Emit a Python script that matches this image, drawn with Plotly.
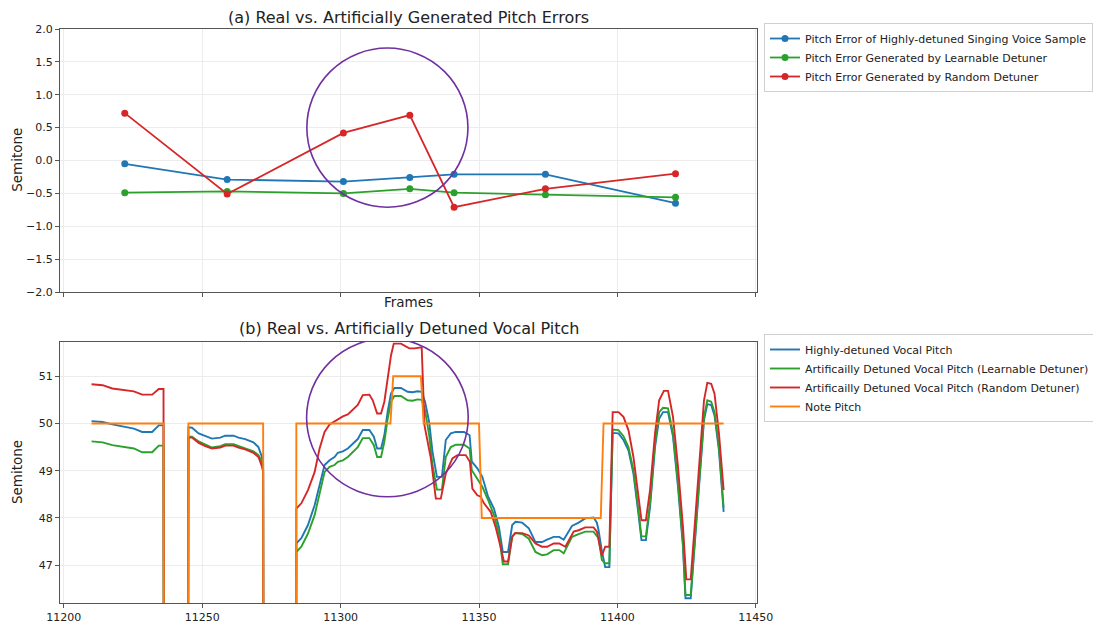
import plotly.graph_objects as go

# ---------------- (a) pitch errors ----------------
err_frames = [11222, 11259, 11301, 11325, 11341, 11374, 11421]
err_real = [-0.05, -0.29, -0.32, -0.26, -0.21, -0.21, -0.65]
err_learn = [-0.49, -0.47, -0.50, -0.43, -0.49, -0.52, -0.56]
err_random = [0.72, -0.51, 0.42, 0.69, -0.71, -0.43, -0.20]

# ---------------- (b) vocal pitch ----------------
real_x = [11210, 11214, 11217.5, 11225.3, 11228.3, 11231.9, 11234.3, 11236, 11237, 11244,
          11245, 11246.3, 11248.7, 11251.1, 11253.5, 11256.5, 11258.3, 11261.3, 11263.1, 11265.5,
          11268.5, 11270.3, 11271.5, 11272, 11273, 11283,
          11284, 11285.8, 11288.2, 11290.6, 11292.4, 11294.2, 11296, 11297.8, 11299, 11300.8,
          11302.6, 11304.4, 11306.2, 11308, 11310.4, 11312, 11313.2, 11314.6, 11315.8, 11317,
          11318.2, 11319.4, 11321.8, 11324.2, 11326, 11327.8, 11329.3, 11330.5, 11332, 11333.2,
          11334.8, 11336.6, 11338, 11339.8, 11341.6, 11344.6, 11346.6, 11347.4, 11349.4, 11351.2,
          11353.3, 11355.4, 11357.2, 11358.6, 11360.5, 11362, 11363.2, 11365.6, 11368, 11370.4,
          11372.8, 11374.6, 11377, 11379, 11380.6, 11383.6, 11386, 11388.4, 11391.4, 11392.6,
          11393.2, 11394.4, 11395.6, 11397.1, 11398.3, 11400.4, 11402.2, 11404, 11405.8, 11407.6,
          11408.7, 11410.3, 11411.8, 11413.6, 11415.1, 11416.5, 11418.3, 11420.1, 11421.9, 11423.7,
          11424.6, 11426.5, 11427.9, 11429.7, 11431.3, 11432.5, 11433.9, 11435.1, 11436.7, 11438.4]
real_y = [50.05, 50.03, 49.98, 49.89, 49.82, 49.82, 49.96, 49.96, 0, 0,
          49.92, 49.91, 49.79, 49.73, 49.68, 49.70, 49.74, 49.74, 49.70, 49.67,
          49.60, 49.50, 49.30, 49.15, 0, 0,
          47.46, 47.57, 47.85, 48.27, 48.69, 49.12, 49.22, 49.29, 49.38, 49.41,
          49.47, 49.58, 49.67, 49.86, 49.86, 49.72, 49.47, 49.47, 49.75, 50.25,
          50.63, 50.75, 50.75, 50.67, 50.66, 50.68, 50.67, 50.46, 50.03, 49.40,
          48.87, 48.87, 49.65, 49.79, 49.82, 49.82, 49.75, 49.19, 49.05, 48.87,
          48.45, 48.20, 47.81, 47.28, 47.28, 47.85, 47.92, 47.90, 47.78, 47.49,
          47.49, 47.54, 47.60, 47.60, 47.54, 47.83, 47.90, 47.99, 48.01, 47.90,
          47.74, 47.30, 46.96, 46.96, 49.80, 49.79, 49.65, 49.43, 48.94, 48.09,
          47.53, 47.53, 48.23, 49.50, 50.10, 50.24, 50.24, 49.72, 48.66, 47.39,
          46.30, 46.30, 47.39, 48.94, 50.07, 50.41, 50.39, 50.17, 49.43, 48.13]

learn_x = real_x
learn_y = [49.62, 49.60, 49.54, 49.47, 49.39, 49.39, 49.53, 49.53, 0, 0,
           49.72, 49.72, 49.62, 49.55, 49.49, 49.52, 49.56, 49.56, 49.52, 49.47,
           49.41, 49.33, 49.20, 49.03, 0, 0,
           47.28, 47.39, 47.67, 48.06, 48.55, 48.97, 49.08, 49.12, 49.19, 49.22,
           49.29, 49.40, 49.50, 49.69, 49.69, 49.54, 49.29, 49.29, 49.61, 50.10,
           50.46, 50.58, 50.58, 50.49, 50.48, 50.51, 50.50, 50.28, 49.75, 49.12,
           48.60, 48.60, 49.29, 49.50, 49.55, 49.55, 49.47, 49.01, 48.83, 48.66,
           48.38, 48.06, 47.67, 47.02, 47.02, 47.61, 47.68, 47.66, 47.56, 47.28,
           47.21, 47.23, 47.32, 47.32, 47.25, 47.60, 47.66, 47.71, 47.71, 47.60,
           47.57, 47.11, 47.04, 47.04, 49.87, 49.86, 49.73, 49.50, 49.01, 48.16,
           47.61, 47.61, 48.31, 49.58, 50.24, 50.33, 50.32, 49.79, 48.73, 47.46,
           46.37, 46.37, 47.46, 49.01, 50.14, 50.49, 50.46, 50.24, 49.50, 48.22]

rand_x = [11210, 11214, 11217.5, 11225.3, 11228.3, 11231.9, 11234.3, 11236, 11237, 11244,
          11245, 11246.3, 11248.7, 11251.1, 11253.5, 11256.5, 11258.3, 11261.3, 11263.1, 11265.5,
          11268.5, 11270.3, 11271.5, 11272, 11273, 11283,
          11284, 11285.8, 11288.2, 11290.6, 11292.4, 11294.2, 11296, 11298.4, 11300.8, 11302.6,
          11304.4, 11306.2, 11308, 11310.4, 11311.6, 11313.2, 11314.6, 11315.8, 11317, 11318.2,
          11319.2, 11321.8, 11324.8, 11326.6, 11329.3, 11330.3, 11332.6, 11334.4, 11336.2, 11338,
          11340.4, 11342.2, 11345.2, 11346.7, 11347.6, 11349.4, 11350.6, 11351.8, 11354.2, 11356,
          11357.8, 11359, 11360.5, 11362, 11363, 11365.6, 11368, 11370.4, 11372.8, 11374.6,
          11377, 11379, 11381.2, 11384.2, 11386, 11388.4, 11391.4, 11392.6, 11393.2, 11394.4,
          11395.6, 11397.1, 11398.3, 11400.4, 11402.2, 11404, 11405.8, 11407.6, 11408.7, 11410.3,
          11411.8, 11413.6, 11415.1, 11416.8, 11418.3, 11420.1, 11421.9, 11423.7, 11424.9, 11426.5,
          11427.9, 11429.7, 11431.3, 11432.5, 11433.9, 11435.1, 11436.7, 11438.4]
rand_y = [50.83, 50.81, 50.74, 50.68, 50.61, 50.61, 50.73, 50.73, 0, 0,
          49.70, 49.70, 49.59, 49.52, 49.47, 49.49, 49.53, 49.53, 49.49, 49.45,
          49.38, 49.29, 49.10, 48.98, 0, 0,
          48.20, 48.31, 48.59, 48.97, 49.47, 49.82, 49.98, 50.07, 50.15, 50.19,
          50.28, 50.39, 50.60, 50.61, 50.49, 50.21, 50.21, 50.46, 50.95, 51.44,
          51.69, 51.69, 51.59, 51.59, 51.61, 49.96, 49.26, 48.41, 48.41, 48.94,
          49.26, 49.33, 49.33, 49.19, 48.62, 48.48, 48.45, 48.31, 48.13, 47.81,
          47.39, 47.08, 47.08, 47.60, 47.68, 47.68, 47.63, 47.46, 47.39, 47.39,
          47.46, 47.46, 47.39, 47.71, 47.74, 47.80, 47.80, 47.71, 47.53, 47.20,
          47.39, 47.39, 50.24, 50.24, 50.14, 49.86, 49.29, 48.45, 47.95, 47.95,
          48.59, 49.79, 50.49, 50.69, 50.69, 50.14, 49.08, 47.81, 46.70, 46.70,
          47.81, 49.29, 50.49, 50.86, 50.84, 50.63, 49.79, 48.59]

note_x = [11210, 11236, 11237, 11244, 11245, 11272, 11273, 11283, 11284, 11318,
          11319, 11329, 11330, 11350, 11351, 11394, 11395, 11438.4]
note_y = [50, 50, 0, 0, 50, 50, 0, 0, 50, 50,
          51, 51, 50, 50, 48, 48, 50, 50]

x_ticks = [11200, 11250, 11300, 11350, 11400, 11450]
err_ticks = [-2.0, -1.5, -1.0, -0.5, 0.0, 0.5, 1.0, 1.5, 2.0]
pitch_ticks = [47, 48, 49, 50, 51]

BLUE, GREEN, RED, ORANGE, PURPLE = "#1f77b4", "#2ca02c", "#d62728", "#ff7f0e", "#7030a0"
FONT = "DejaVu Sans"
TXT = "#222222"

fig = go.Figure()

for name, ys, col in [
    ("Pitch Error of Highly-detuned Singing Voice Sample", err_real, BLUE),
    ("Pitch Error Generated by Learnable Detuner", err_learn, GREEN),
    ("Pitch Error Generated by Random Detuner", err_random, RED),
]:
    fig.add_trace(go.Scatter(x=err_frames, y=ys, name=name, mode="lines+markers",
                             line=dict(color=col, width=1.8), marker=dict(color=col, size=7),
                             xaxis="x", yaxis="y", legend="legend"))

for name, xs, ys, col in [
    ("Highly-detuned Vocal Pitch", real_x, real_y, BLUE),
    ("Artificailly Detuned Vocal Pitch (Learnable Detuner)", learn_x, learn_y, GREEN),
    ("Artificailly Detuned Vocal Pitch (Random Detuner)", rand_x, rand_y, RED),
    ("Note Pitch", note_x, note_y, ORANGE),
]:
    fig.add_trace(go.Scatter(x=xs, y=ys, name=name, mode="lines",
                             line=dict(color=col, width=1.9),
                             xaxis="x2", yaxis="y2", legend="legend2"))

axis_common = dict(showline=True, mirror=True, linecolor="#555555", linewidth=1,
                   ticks="outside", ticklen=4, tickcolor="#555555",
                   showgrid=True, gridcolor="#ececec", gridwidth=1, zeroline=False,
                   tickfont=dict(family=FONT, size=11, color=TXT))

def fmt(v):
    s = f"{v:.1f}"
    return s.replace("-", "\u2212")

W, H = 1093, 623
X_RANGE = [11198.6, 11450.45]
leg_common = dict(xref="container", yref="container", xanchor="left", yanchor="top",
                  bgcolor="white", bordercolor="#d0d0d0", borderwidth=1,
                  font=dict(family=FONT, size=11, color=TXT),
                  itemwidth=30, tracegroupgap=0)

fig.update_layout(
    width=W, height=H,
    margin=dict(l=60, r=336, t=29, b=20, autoexpand=False),
    paper_bgcolor="white", plot_bgcolor="white",
    font=dict(family=FONT, color=TXT),
    showlegend=True,
    xaxis=dict(domain=[0, 1], anchor="y", matches="x2", range=X_RANGE,
               tickvals=x_ticks, showticklabels=False, **axis_common),
    yaxis=dict(domain=[0.5418, 1.0], anchor="x", range=[-2.0, 2.0],
               tickvals=err_ticks, ticktext=[fmt(v) for v in err_ticks], **axis_common),
    xaxis2=dict(domain=[0, 1], anchor="y2", range=X_RANGE,
                tickvals=x_ticks, ticktext=[str(v) for v in x_ticks], **axis_common),
    yaxis2=dict(domain=[0, 0.4552], anchor="x2", range=[46.2, 51.73],
                tickvals=pitch_ticks, ticktext=[str(v) for v in pitch_ticks], **axis_common),
    legend=dict(x=764 / W, y=1 - 23 / H, **leg_common),
    legend2=dict(x=764 / W, y=1 - 334 / H, **leg_common),
)

# zero reference line in panel (a)
fig.add_shape(type="line", xref="x domain", yref="y", x0=0, x1=1, y0=0, y1=0,
              line=dict(color="#999999", width=1, dash="dash"), layer="below")

# highlight circles
fig.add_shape(type="circle", xref="x", yref="y", x0=11287.8, x1=11346.0, y0=-0.71, y1=1.71,
              line=dict(color=PURPLE, width=1.6))
fig.add_shape(type="circle", xref="x2", yref="y2", x0=11287.7, x1=11346.1, y0=48.45, y1=51.80,
              line=dict(color=PURPLE, width=1.6))

# titles and labels
ann = [
    dict(text="(a) Real vs. Artificially Generated Pitch Errors", x=0.5, y=1.0209, size=16),
    dict(text="(b) Real vs. Artificially Detuned Vocal Pitch", x=0.5, y=0.479, size=16),
    dict(text="Frames", x=0.5, y=0.5244, size=13.5),
]
for a in ann:
    fig.add_annotation(text=a["text"], x=a["x"], y=a["y"], xref="paper", yref="paper",
                       showarrow=False, xanchor="center", yanchor="middle",
                       font=dict(family=FONT, size=a["size"], color=TXT))
for yy in [0.772, 0.228]:
    fig.add_annotation(text="Semitone", x=-0.0617, y=yy, xref="paper", yref="paper",
                       showarrow=False, textangle=-90, xanchor="center", yanchor="middle",
                       font=dict(family=FONT, size=13.5, color=TXT))

fig.write_html("out.html", config={"displayModeBar": False},
               post_script="document.body.style.margin='0';document.body.style.overflow='hidden';")
